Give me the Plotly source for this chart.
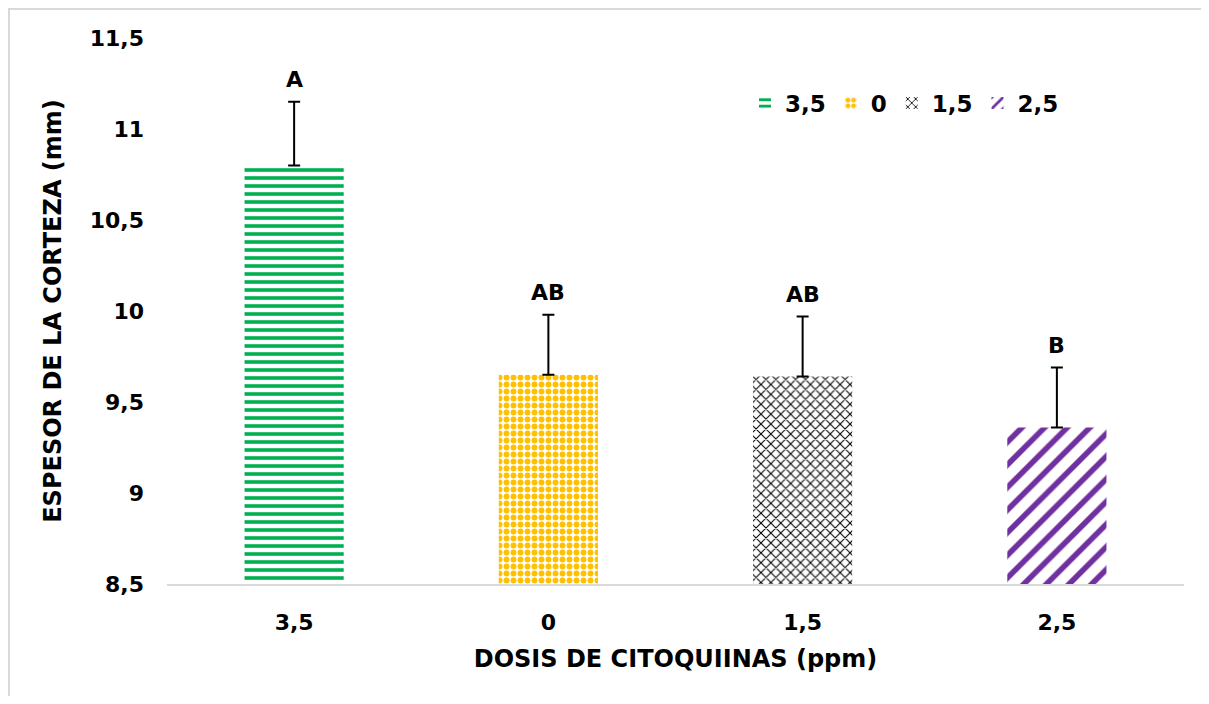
import plotly.graph_objects as go

categories = ["3,5", "0", "1,5", "2,5"]
values = [10.80, 9.65, 9.64, 9.36]
errors = [0.35, 0.33, 0.33, 0.33]
letters = ["A", "AB", "AB", "B"]
colors = ["#00B050", "#FFC000", "#000000", "#7030A0"]
shapes_pat = ["-", ".", "x", "/"]
pat_sizes = [8, 7, 7, 16]
pat_solid = [0.45, 0.55, 0.28, 0.35]

FONT = "DejaVu Sans, Verdana, sans-serif"

fig = go.Figure()
for i, c in enumerate(categories):
    fig.add_trace(go.Bar(
        x=[c], y=[values[i]], name=c, width=0.39,
        marker=dict(color="white", line=dict(width=0),
                    pattern=dict(shape=shapes_pat[i], fgcolor=colors[i], bgcolor="white",
                                 size=pat_sizes[i], solidity=pat_solid[i], fillmode="replace")),
        error_y=dict(type="data", array=[errors[i]], arrayminus=[0], symmetric=False,
                     color="black", thickness=2, width=6),
    ))

for i, c in enumerate(categories):
    fig.add_annotation(x=i, y=values[i] + errors[i], text=letters[i], showarrow=False,
                       yshift=22, font=dict(family=FONT, size=22, color="black", weight="bold"))

# page is rendered with an 8px body margin, so figure coords = page - 8
W, H = 1193, 688
L, R, T, B = 159, 17, 30, 112
pw, ph = W - L - R, H - T - B
px = lambda x: (x - L) / pw
py = lambda y: (T + ph - y) / ph
fig.add_shape(type="line", xref="paper", yref="paper",
              x0=px(1), x1=px(1), y0=py(0), y1=py(H + 5),
              line=dict(color="#d9d9d9", width=2), layer="below")
fig.add_shape(type="line", xref="paper", yref="paper",
              x0=px(0), x1=px(W + 5), y0=py(1), y1=py(1),
              line=dict(color="#d9d9d9", width=2), layer="below")

fig.update_layout(
    width=W, height=H, margin=dict(l=L, r=R, t=T, b=B),
    paper_bgcolor="white", plot_bgcolor="white",
    barmode="overlay", separators=",.",
    font=dict(family=FONT, size=22, color="black"),
    legend=dict(orientation="h", x=px(737), y=py(95), xanchor="left", yanchor="middle",
                font=dict(family=FONT, size=23, color="black", weight="bold"),
                bgcolor="rgba(0,0,0,0)", itemwidth=30, tracegroupgap=0),
    xaxis=dict(showgrid=False, showline=True, linecolor="#d9d9d9", linewidth=2,
               ticks="", ticklabelstandoff=18,
               tickfont=dict(family=FONT, size=22, weight="bold"),
               title=dict(text="DOSIS DE CITOQUIINAS (ppm)", standoff=16,
                          font=dict(family=FONT, size=24, weight="bold"))),
    yaxis=dict(range=[8.5, 11.5], tick0=8.5, dtick=0.5, showgrid=False, showline=False,
               zeroline=False, ticks="", ticklabelstandoff=22,
               tickfont=dict(family=FONT, size=22, weight="bold"),
               title=dict(text="ESPESOR DE LA CORTEZA (mm)", standoff=21,
                          font=dict(family=FONT, size=24, weight="bold"))),
)

fig.write_html("out.html")
